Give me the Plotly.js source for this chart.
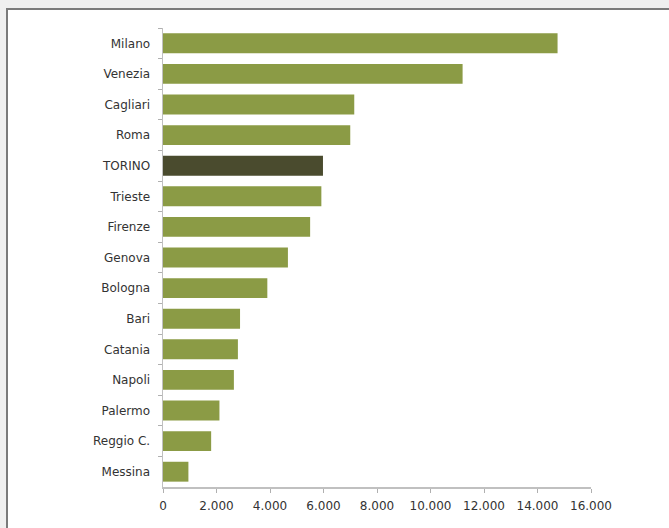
<!DOCTYPE html>
<html>
<head>
<meta charset="utf-8">
<script src="https://cdn.plot.ly/plotly-3.0.1.min.js"></script>
<style>
  html, body { margin: 0; padding: 0; background: #efefef; width: 669px; height: 528px; overflow: hidden; }
  #frame { position: absolute; left: 6px; top: 8px; width: 661px; height: 518px;
           background: #ffffff; border-left: 2px solid #7a7a7a; border-top: 2px solid #7a7a7a;
           border-right: 1px solid #e2e2e2; border-bottom: 2px solid #e8e8e8; }
  #chart { width: 661px; height: 518px; }
</style>
</head>
<body>
<div id="frame"><div id="chart"></div></div>
<script>
const cities = ["Milano", "Venezia", "Cagliari", "Roma", "TORINO", "Trieste", "Firenze", "Genova",
                "Bologna", "Bari", "Catania", "Napoli", "Palermo", "Reggio C.", "Messina"];
const values = [14750, 11200, 7150, 7000, 5980, 5920, 5500, 4670,
                3900, 2880, 2800, 2650, 2110, 1800, 950];
const xTicks = [0, 2000, 4000, 6000, 8000, 10000, 12000, 14000, 16000];

const normalColor = "#8b9b45";
const highlightColor = "#4a4b2e";
const colors = cities.map(c => c === "TORINO" ? highlightColor : normalColor);

const trace = {
  type: "bar",
  orientation: "h",
  y: cities,
  x: values,
  marker: { color: colors, line: { width: 0 } },
  hoverinfo: "x+y"
};

const layout = {
  width: 661, height: 518,
  margin: { l: 155, r: 78, t: 18, b: 41 },
  paper_bgcolor: "#ffffff",
  plot_bgcolor: "#ffffff",
  separators: ",.",
  bargap: 0.35,
  showlegend: false,
  font: { family: "DejaVu Sans, sans-serif", size: 12, color: "#333333" },
  xaxis: {
    range: [0, 16000],
    tickvals: xTicks,
    tickformat: ",d",
    showgrid: false,
    zeroline: false,
    showline: true,
    linecolor: "#c0c0c0",
    linewidth: 1.5,
    ticks: "outside",
    ticklen: 4,
    tickcolor: "#b0b0b0",
    tickfont: { size: 12, color: "#333333" },
    ticklabelstandoff: 3,
    fixedrange: true
  },
  yaxis: {
    autorange: "reversed",
    type: "category",
    showgrid: false,
    zeroline: false,
    showline: true,
    linecolor: "#c0c0c0",
    linewidth: 1.5,
    ticks: "outside",
    tickson: "boundaries",
    ticklen: 4,
    tickcolor: "#b0b0b0",
    tickfont: { size: 12, color: "#333333" },
    ticklabelstandoff: 9,
    fixedrange: true
  }
};

Plotly.newPlot("chart", [trace], layout, { displayModeBar: false, staticPlot: true });
</script>
</body>
</html>
